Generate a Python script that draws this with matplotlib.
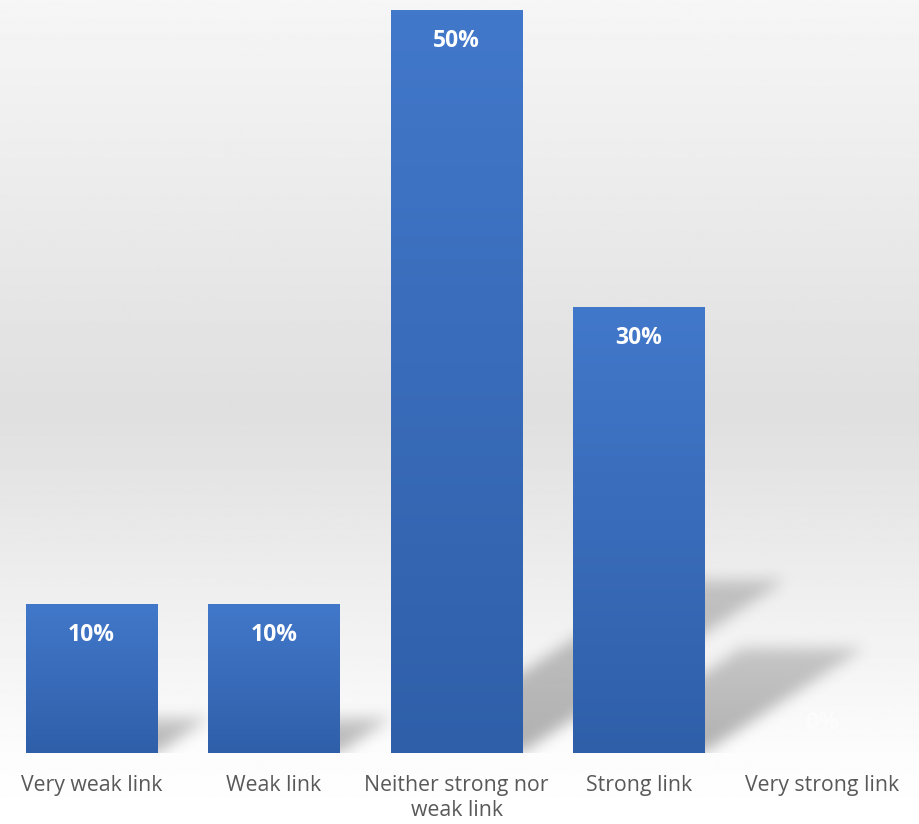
import numpy as np
import matplotlib.pyplot as plt
from matplotlib.patches import Rectangle

categories = ["Very weak link", "Weak link", "Neither strong nor\nweak link", "Strong link", "Very strong link"]
values = [10, 10, 50, 30, 0]
labels = ["10%", "10%", "50%", "30%", "0%"]

W, H = 919, 824
fig = plt.figure(figsize=(W / 100, H / 100), dpi=100)

# background gradient over the whole figure
bg = fig.add_axes([0, 0, 1, 1], zorder=0)
yy = np.linspace(0, 1, 400)
g = np.interp(yy, [0.0, 0.08, 0.5, 0.95, 1.0], [1.0, 0.99, 0.875, 0.955, 0.965])
bg.imshow(np.repeat(g[:, None], 2, axis=1), cmap="gray", vmin=0, vmax=1,
          aspect="auto", extent=[0, 1, 0, 1], origin="lower")
bg.set_axis_off()

ax = fig.add_axes([0 / W, 1 - 753 / H, 913 / W, 743 / H], zorder=1)
ax.patch.set_alpha(0)
x = np.arange(len(values))
bw = 0.72
ax.set_xlim(-0.5, 4.5)
ax.set_ylim(0, 50)

# soft shadows cast to the upper right, built as a blurred mask
nx, ny = 900, 500
gx = np.linspace(-0.5, 4.5, nx)
gy = np.linspace(-2, 50, ny)
GX, GY = np.meshgrid(gx, gy)
mask = np.zeros_like(GX)
for xi, v in zip(x, values):
    if v <= 0:
        continue
    dy = 0.233 * v          # rise of the shadow in data units
    dxs = 0.029 * v         # sideways shift in category units
    t = np.clip(GY / dy, 0, 1)
    inside = (GY >= 0) & (GY <= dy)
    left = xi - bw / 2 + dxs * t + 0.05
    right = xi + bw / 2 + dxs * t
    m = inside & (GX >= left) & (GX <= right)
    mask = np.maximum(mask, m * (1 - 0.35 * t))

def box_blur(a, k, axis):
    ker = np.ones(k) / k
    return np.apply_along_axis(lambda r: np.convolve(r, ker, mode="same"), axis, a)

for _ in range(2):
    mask = box_blur(mask, 15, 1)
    mask = box_blur(mask, 11, 0)

shadow = np.zeros((ny, nx, 4))
shadow[..., :3] = 0.45
shadow[..., 3] = mask * 0.55
ax.imshow(shadow, extent=[-0.5, 4.5, -2, 50], origin="lower", aspect="auto",
          zorder=1, interpolation="bilinear")

# bars with vertical gradient
top_c = np.array([0x42, 0x78, 0xca]) / 255
bot_c = np.array([0x2f, 0x5f, 0xa9]) / 255
for xi, v, lab in zip(x, values, labels):
    if v > 0:
        rect = Rectangle((xi - bw / 2, 0), bw, v, facecolor="none", edgecolor="none")
        ax.add_patch(rect)
        tt = np.linspace(0, 1, 200)[:, None]
        grad = bot_c[None, :] * (1 - tt) + top_c[None, :] * tt
        im = ax.imshow(grad[:, None, :], extent=[xi - bw / 2, xi + bw / 2, 0, v],
                       origin="lower", aspect="auto", zorder=2)
        im.set_clip_path(rect)
        off, a = -31, 1
    else:
        off, a = 13, 0.6
    ax.annotate(lab, (xi, v), xytext=(0, off), textcoords="offset points",
                ha="center", va="bottom", color="white", fontsize=16.5,
                fontweight="bold", family="Open Sans", zorder=3, alpha=a)

ax.set_xticks(x)
ax.set_xticklabels(categories, fontsize=15.3, color="#595959", family="Open Sans",
                   linespacing=1.25)
ax.tick_params(axis="x", length=0, pad=16)
ax.set_yticks([])
for s in ax.spines.values():
    s.set_visible(False)

fig.savefig("out.png", dpi=100)
